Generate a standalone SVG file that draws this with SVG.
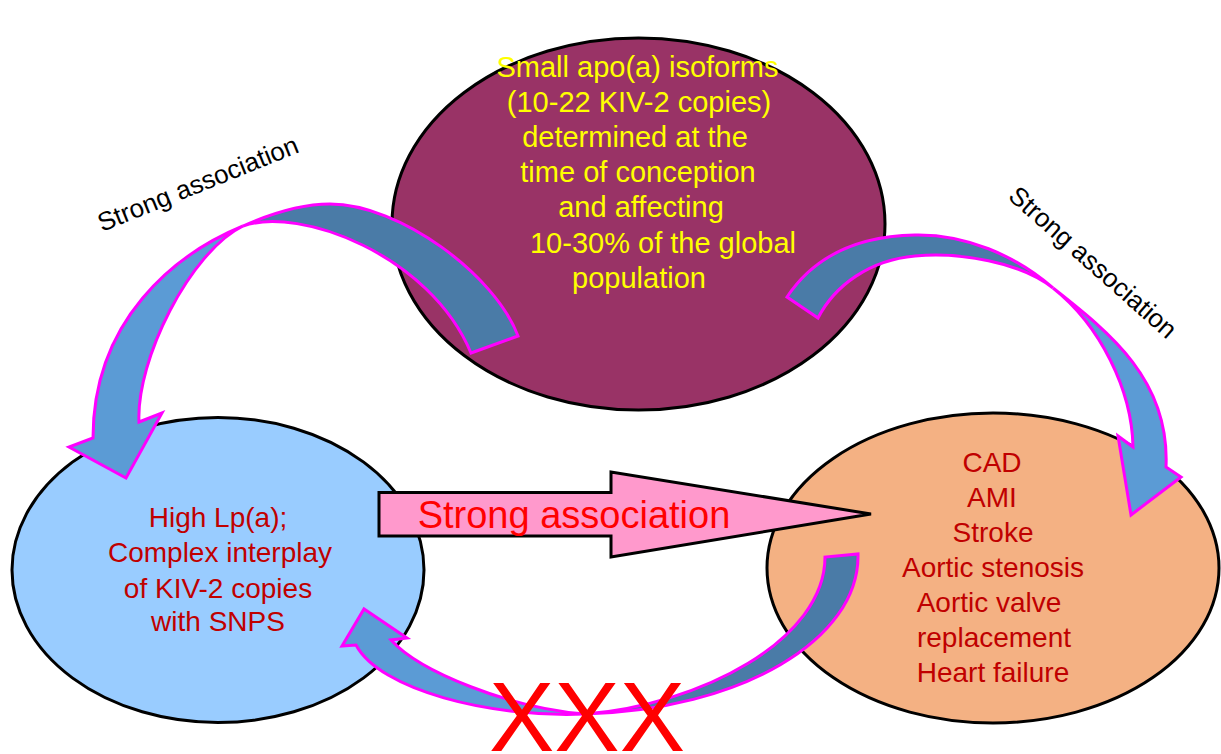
<svg xmlns="http://www.w3.org/2000/svg" width="1221" height="754" viewBox="0 0 1221 754">
<style>
.ell{stroke:#000;stroke-width:3}
.t{font-family:"Liberation Sans",Arial,sans-serif;text-anchor:middle}
.yt{fill:#FFFF00;font-size:29px}
.rt{fill:#C00000;font-size:28px}
.lbl{font-family:"Liberation Sans",Arial,sans-serif;font-size:26px;fill:#000}
.dk{fill:#4A7BA7;stroke:#FF00FF;stroke-width:3;stroke-linejoin:miter}
.lt{fill:#5B9BD5;stroke:#FF00FF;stroke-width:3;stroke-linejoin:miter}
</style>
<rect width="1221" height="754" fill="#fff"/>
<g id="node-top">
<ellipse class="ell" cx="638.5" cy="224" rx="246.5" ry="186" fill="#993366"/>
<text class="t yt" x="637.5" y="77">Small apo(a) isoforms</text>
<text class="t yt" x="639" y="112">(10-22 KIV-2 copies)</text>
<text class="t yt" x="635" y="147">determined at the</text>
<text class="t yt" x="638" y="182">time of conception</text>
<text class="t yt" x="641" y="217">and affecting</text>
<text class="t yt" x="663" y="253">10-30% of the global</text>
<text class="t yt" x="639" y="288">population</text>
</g>
<g id="node-left">
<ellipse class="ell" cx="218" cy="570" rx="206" ry="152.5" fill="#99CCFF"/>
<text class="t rt" x="218" y="527">High Lp(a);</text>
<text class="t rt" x="220" y="562">Complex interplay</text>
<text class="t rt" x="218" y="598">of KIV-2 copies</text>
<text class="t rt" x="218" y="631">with SNPS</text>
</g>
<g id="node-right">
<ellipse class="ell" cx="993" cy="568" rx="226" ry="155" fill="#F4B183"/>
<text class="t rt" x="992" y="472">CAD</text>
<text class="t rt" x="992" y="507">AMI</text>
<text class="t rt" x="993" y="542">Stroke</text>
<text class="t rt" x="993" y="577">Aortic stenosis</text>
<text class="t rt" x="989" y="612">Aortic valve</text>
<text class="t rt" x="994" y="647">replacement</text>
<text class="t rt" x="993" y="682">Heart failure</text>
</g>
<g id="connectors">
<g id="arrow-top-left">
<path class="dk" d="M518,336 C495,275 400,204 330,204 C300,204 270,214 243,226 C300,206 430,255 471,353 Z"/>
<path class="lt" d="M243,226 C175,254 93,320 93,438 L69,447 L126,478 L162,413 L139,422 C136,360 190,252 243,226 Z"/>
</g>
<g id="arrow-top-right">
<path class="dk" d="M787,297 C815,255 860,236 915,235 C965,234 1015,255 1053,288 C1020,262 960,252 915,256 C870,260 835,285 818,318 Z"/>
<path class="lt" d="M1053,288 C1110,333 1170,380 1166,467 L1181,477 L1131,515 L1118,436 L1133,447 C1132,390 1100,325 1053,288 Z"/>
</g>
<g id="arrow-bottom">
<path class="dk" d="M858,554 C860,640 740,710 585,714 C700,705 825,640 825,557 Z"/>
<path class="lt" d="M585,714 C490,718 380,690 356,645 L342,646 L364,609 L407,638 L391,640 C420,672 510,708 585,714 Z"/>
</g>
<g id="arrow-strong">
<path d="M379,492.5 L611,492.5 L611,472 L871,514 L611,557 L611,536 L379,536 Z" fill="#FF99CC" stroke="#000" stroke-width="3"/>
<text x="574" y="528" style="font-family:'Liberation Sans',Arial,sans-serif;font-size:38px;fill:#FF0000;text-anchor:middle">Strong association</text>
</g>
<text class="lbl" transform="translate(102,232) rotate(-22)">Strong association</text>
<text class="lbl" transform="translate(1007,198) rotate(41.5)">Strong association</text>
</g>
<text x="587" y="751" style="font-family:'Liberation Sans',Arial,sans-serif;font-size:98px;fill:#FF0000;text-anchor:middle">XXX</text>
</svg>
